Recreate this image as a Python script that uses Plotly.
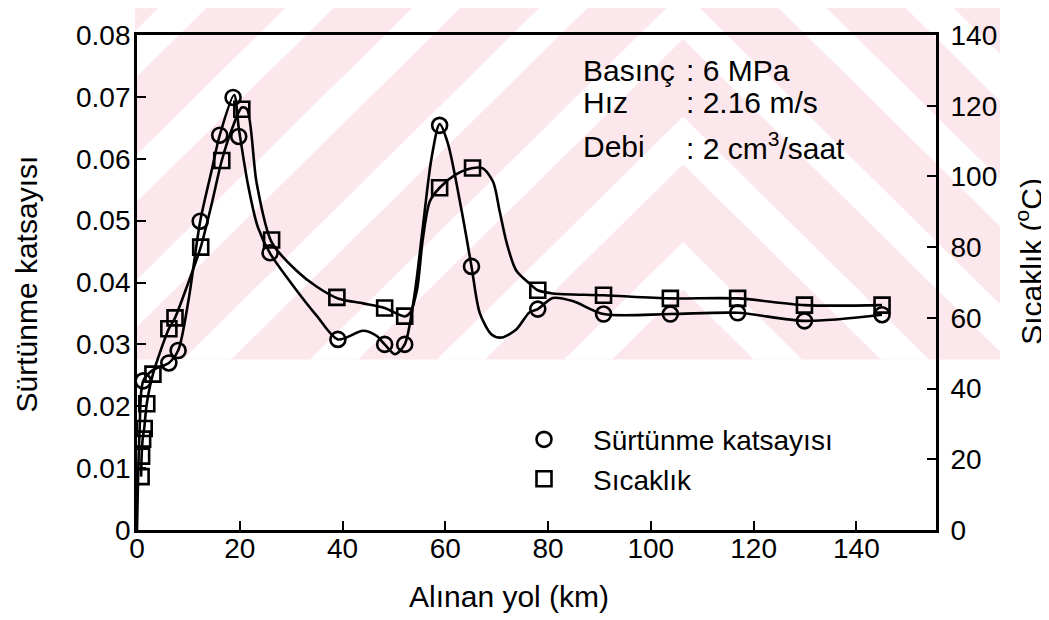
import plotly.graph_objects as go

# ---------------- data ----------------
# measured points: friction coefficient (circles, left axis)
dist_fric = [1.2, 6.2, 8.0, 12.3, 16.1, 18.7, 19.8, 25.9, 39.1, 48.2, 52.1,
             58.9, 65.1, 78.0, 90.8, 103.8, 116.9, 129.9, 145.0]
fric = [0.0241, 0.0270, 0.0290, 0.0499, 0.0638, 0.0699, 0.0636, 0.0448, 0.0308,
        0.0300, 0.0300, 0.0654, 0.0426, 0.0357, 0.0349, 0.0349, 0.0351, 0.0338, 0.0348]

# measured points: temperature (squares, right axis)
dist_temp = [0.8, 0.9, 1.1, 1.4, 1.9, 3.1, 6.2, 7.4, 12.4, 16.5, 20.4, 26.2,
             38.9, 48.2, 52.1, 58.9, 65.3, 78.0, 90.8, 103.8, 116.9, 129.9, 145.0]
temp = [15.1, 20.9, 25.7, 28.7, 35.7, 44.1, 56.9, 60.0, 80.0, 104.5, 119.0, 82.0,
        65.8, 62.8, 60.5, 96.8, 102.4, 67.8, 66.4, 65.5, 65.5, 63.6, 63.6]

# drawn fitted curves
fric_curve_x = [0.0, 0.5, 1.2, 3.0, 6.2, 8.0, 10.0, 12.3, 14.5, 16.1, 18.9, 19.8,
                21.6, 23.5, 25.9, 31.0, 35.0, 39.1, 44.0, 46.6, 48.2, 50.2, 52.1,
                54.0, 55.5, 57.3, 58.9, 60.5, 63.2, 65.1, 66.7, 69.0, 70.9, 73.8,
                76.4, 78.0, 80.9, 84.8, 90.8, 103.8, 116.9, 129.9, 145.0]
fric_curve_y = [0.0, 0.016, 0.0241, 0.0258, 0.0270, 0.0290, 0.0370, 0.0499, 0.0580,
                0.0638, 0.0703, 0.0650, 0.0558, 0.0490, 0.0447, 0.0388, 0.0346,
                0.0308, 0.0322, 0.0314, 0.0300, 0.0284, 0.0300, 0.0380, 0.0480,
                0.0600, 0.0656, 0.0625, 0.0515, 0.0426, 0.0351, 0.0316, 0.0311,
                0.0324, 0.0352, 0.0357, 0.0375, 0.0370, 0.0349, 0.0349, 0.0351,
                0.0338, 0.0348]

temp_curve_x = [0.8, 0.9, 1.1, 1.4, 1.9, 3.1, 6.2, 7.4, 10.0, 12.4, 14.5, 16.5,
                18.5, 20.4, 21.4, 23.3, 26.2, 31.0, 35.0, 39.1, 44.0, 48.2, 52.1,
                53.2, 54.5, 55.6, 57.0, 58.9, 62.0, 65.1, 67.3, 69.3, 70.6, 72.0,
                73.8, 76.4, 78.0, 80.9, 90.8, 103.8, 116.9, 129.9, 145.0]
temp_curve_y = [15.1, 20.9, 25.7, 28.7, 35.7, 44.1, 56.9, 60.0, 70.0, 80.0, 92.0,
                104.5, 113.5, 119.5, 119.0, 98.0, 81.4, 73.4, 68.8, 65.5, 64.1,
                62.8, 60.4, 61.5, 68.0, 82.0, 93.0, 96.8, 100.5, 102.3, 102.3,
                98.5, 90.0, 80.9, 73.4, 69.7, 67.8, 66.9, 66.4, 65.5, 65.5, 63.6,
                63.6]

x_ticks = [0, 20, 40, 60, 80, 100, 120, 140]
y_ticks = [0, 0.01, 0.02, 0.03, 0.04, 0.05, 0.06, 0.07, 0.08]
y_tick_text = ["0", "0.01", "0.02", "0.03", "0.04", "0.05", "0.06", "0.07", "0.08"]
y2_ticks = [0, 20, 40, 60, 80, 100, 120, 140]

name_fric = "Sürtünme katsayısı"
name_temp = "Sıcaklık"

# ---------------- layout geometry (screen pixels) ----------------
WIN_W, WIN_H = 1049, 620
OFF = 8                          # default page margin around the plot div
W, H = WIN_W - OFF, WIN_H - OFF
L, R, T, B = 137, 936, 28, 530   # plot area on screen
FONT = "Liberation Sans, Arial, Helvetica, sans-serif"


def px(x):
    return (x - L) / (R - L)


def py(y):
    return (B - y) / (B - T)


# ---------------- faint scanned watermark (background decoration) ----------------
WM_BOX = (135, 1000, 0, 357)     # xmin, xmax, ymin, ymax (screen px)
WM_APEX_X = 683
WM_PERIOD = 127
WM_WHITE = 48
WM_PINK = "#fce8ec"


def clip_poly(poly, xmin, xmax, ymin, ymax):
    def clip_edge(pts, inside, inter):
        out = []
        n = len(pts)
        for i in range(n):
            cur, prev = pts[i], pts[i - 1]
            if inside(cur):
                if not inside(prev):
                    out.append(inter(prev, cur))
                out.append(cur)
            elif inside(prev):
                out.append(inter(prev, cur))
        return out

    def ix(a, b, xv):
        t = (xv - a[0]) / (b[0] - a[0])
        return (xv, a[1] + t * (b[1] - a[1]))

    def iy(a, b, yv):
        t = (yv - a[1]) / (b[1] - a[1])
        return (a[0] + t * (b[0] - a[0]), yv)

    pts = poly
    pts = clip_edge(pts, lambda p: p[0] >= xmin, lambda a, b: ix(a, b, xmin)) if pts else pts
    pts = clip_edge(pts, lambda p: p[0] <= xmax, lambda a, b: ix(a, b, xmax)) if pts else pts
    pts = clip_edge(pts, lambda p: p[1] >= ymin, lambda a, b: iy(a, b, ymin)) if pts else pts
    pts = clip_edge(pts, lambda p: p[1] <= ymax, lambda a, b: iy(a, b, ymax)) if pts else pts
    return pts


shapes = [dict(type="rect", xref="paper", yref="paper", layer="below",
               x0=px(WM_BOX[0]), x1=px(WM_BOX[1]), y0=py(WM_BOX[3]), y1=py(WM_BOX[2]),
               fillcolor=WM_PINK, line=dict(width=0))]
xmin, xmax, ymin, ymax = WM_BOX
c_center = 262
while c_center - WM_PERIOD > -700:
    c_center -= WM_PERIOD
while c_center < 400:
    c1, c2 = c_center - WM_WHITE / 2, c_center + WM_WHITE / 2
    xl, xr = xmin - 50, xmax + 50
    poly = [(xl, c1 + (WM_APEX_X - xl)), (WM_APEX_X, c1), (xr, c1 + (xr - WM_APEX_X)),
            (xr, c2 + (xr - WM_APEX_X)), (WM_APEX_X, c2), (xl, c2 + (WM_APEX_X - xl))]
    # split concave chevron into two convex halves before clipping
    halves = [[poly[0], poly[1], poly[4], poly[5]], [poly[1], poly[2], poly[3], poly[4]]]
    for hpoly in halves:
        cp = clip_poly(hpoly, xmin, xmax, ymin, ymax)
        if len(cp) >= 3:
            path = "M " + " L ".join(f"{px(a):.5f},{py(b):.5f}" for a, b in cp) + " Z"
            shapes.append(dict(type="path", path=path, xref="paper", yref="paper",
                               layer="below", fillcolor="white", line=dict(width=0)))
    c_center += WM_PERIOD

fig = go.Figure()

fig.add_trace(go.Scatter(
    x=fric_curve_x, y=fric_curve_y, mode="lines",
    line=dict(color="black", width=2.6, shape="spline", smoothing=0.8),
    showlegend=False, hoverinfo="skip"))
fig.add_trace(go.Scatter(
    x=temp_curve_x, y=temp_curve_y, mode="lines", yaxis="y2",
    line=dict(color="black", width=2.6, shape="spline", smoothing=0.8),
    showlegend=False, hoverinfo="skip"))

fig.add_trace(go.Scatter(
    x=dist_fric, y=fric, mode="markers", name=name_fric,
    marker=dict(symbol="circle-open", size=15, color="black",
                line=dict(width=2.6, color="black"))))
fig.add_trace(go.Scatter(
    x=dist_temp, y=temp, mode="markers", name=name_temp, yaxis="y2",
    marker=dict(symbol="square-open", size=15, color="black",
                line=dict(width=2.6, color="black"))))

axis_common = dict(
    showline=True, linecolor="black", linewidth=2.8,
    ticks="inside", ticklen=9, tickwidth=2, tickcolor="black",
    showgrid=False, zeroline=False,
    tickfont=dict(family=FONT, size=28, color="black"),
)

fig.update_layout(
    width=W, height=H,
    margin=dict(l=L - OFF, r=W - (R - OFF), t=T - OFF, b=H - (B - OFF), pad=0),
    paper_bgcolor="white", plot_bgcolor="rgba(0,0,0,0)",
    font=dict(family=FONT, color="black"),
    xaxis=dict(range=[0, 155.5], tickvals=x_ticks, mirror=True,
               ticklabelstandoff=-9, **axis_common),
    yaxis=dict(range=[0, 0.08], tickvals=y_ticks, ticktext=y_tick_text,
               ticklabelstandoff=-2, **axis_common),
    yaxis2=dict(range=[0, 140], tickvals=y2_ticks, overlaying="y", side="right",
                ticklabelstandoff=6, **axis_common),
    legend=dict(x=px(495), y=py(413), xanchor="left", yanchor="top",
                font=dict(family=FONT, size=28, color="black"),
                bgcolor="rgba(0,0,0,0)", itemwidth=88, tracegroupgap=0),
    showlegend=True,
    shapes=shapes,
)

ann = []
# axis titles
ann.append(dict(text="Alınan yol (km)", x=px(509), y=py(597), xref="paper", yref="paper",
                showarrow=False, font=dict(size=30), xanchor="center", yanchor="middle"))
ann.append(dict(text="Sürtünme katsayısı", x=px(26), y=py(281), xref="paper", yref="paper",
                showarrow=False, textangle=-90, font=dict(size=30),
                xanchor="center", yanchor="middle"))
ann.append(dict(text="Sıcaklık (<sup>o</sup>C)", x=px(1029), y=py(258), xref="paper",
                yref="paper", showarrow=False, textangle=-90, font=dict(size=30),
                xanchor="center", yanchor="middle"))
# test conditions
labels = ["Basınç", "Hız", "Debi"]
values = [": 6 MPa", ": 2.16 m/s", ": 2 cm<sup>3</sup>/saat"]
ys = [64, 96, 141]
for lab, val, yy in zip(labels, values, ys):
    ann.append(dict(text=lab, x=px(581), y=py(yy), xref="paper", yref="paper",
                    showarrow=False, font=dict(size=30), xanchor="left", yanchor="middle"))
    ann.append(dict(text=val, x=px(684), y=py(yy), xref="paper", yref="paper",
                    showarrow=False, font=dict(size=30), xanchor="left", yanchor="middle"))
fig.update_layout(annotations=ann)

fig.write_html("out.html")
